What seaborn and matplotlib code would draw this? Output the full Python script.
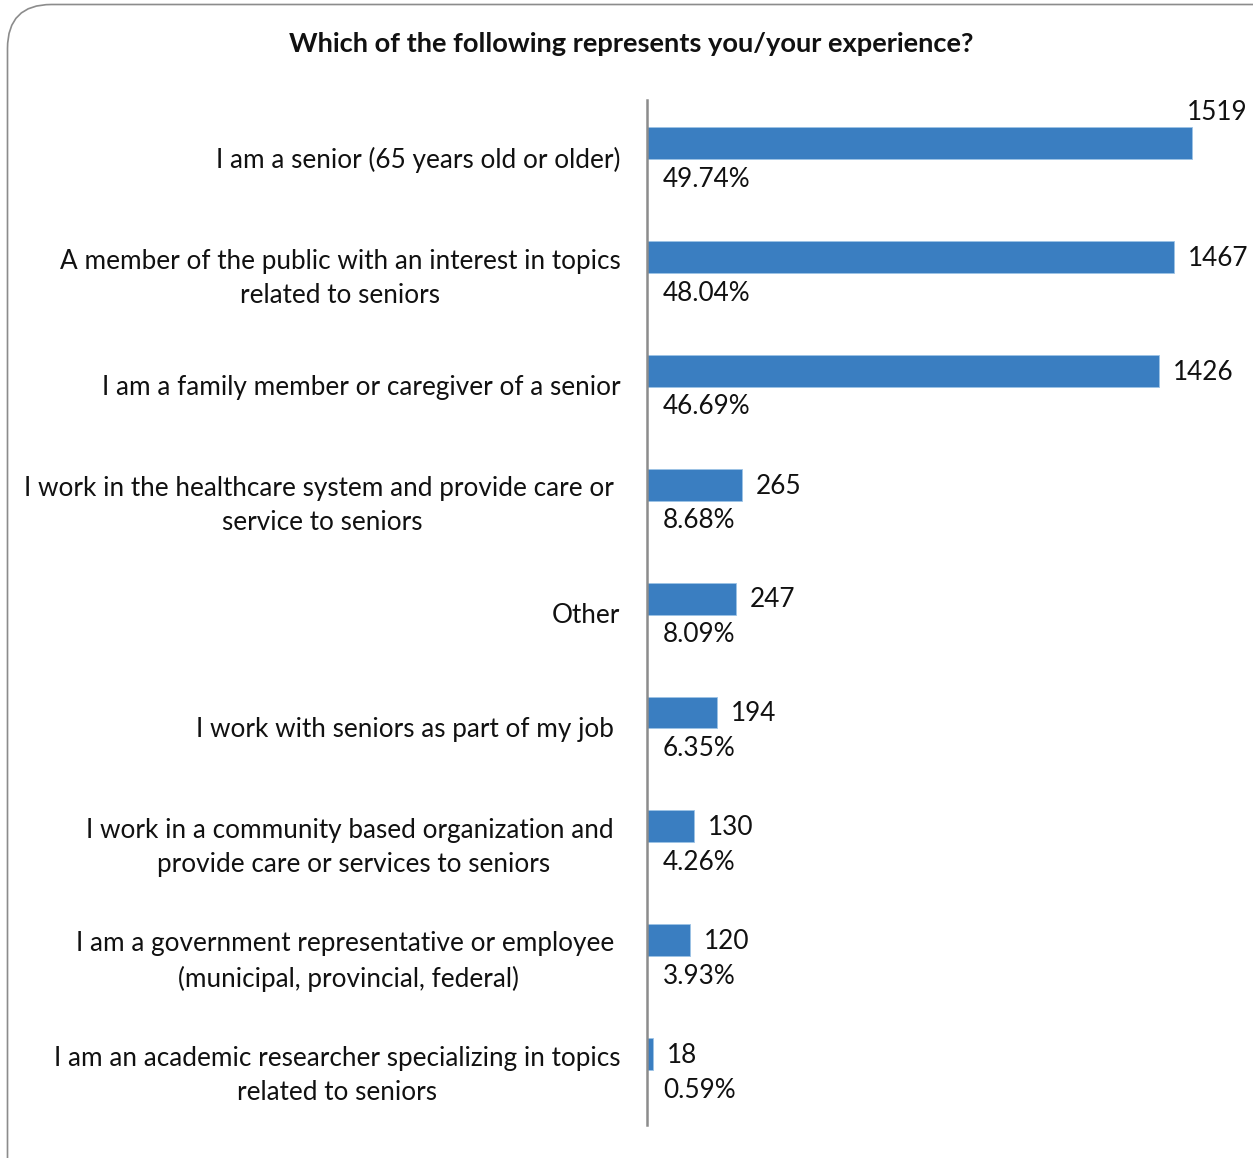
import matplotlib
matplotlib.use("Agg")
import matplotlib.pyplot as plt
from matplotlib.patches import FancyBboxPatch
import numpy as np
import pandas as pd
import seaborn as sns

categories = [
    "I am a senior (65 years old or older)",
    "A member of the public with an interest in topics\nrelated to seniors",
    "I am a family member or caregiver of a senior",
    "I work in the healthcare system and provide care or \nservice to seniors",
    "Other",
    "I work with seniors as part of my job ",
    "I work in a community based organization and \nprovide care or services to seniors",
    "I am a government representative or employee \n(municipal, provincial, federal)",
    "I am an academic researcher specializing in topics\nrelated to seniors",
]
counts = [1519, 1467, 1426, 265, 247, 194, 130, 120, 18]
percents = ["49.74%", "48.04%", "46.69%", "8.68%", "8.09%", "6.35%", "4.26%", "3.93%", "0.59%"]
title = "Which of the following represents you/your experience?"

df = pd.DataFrame({"category": categories, "count": counts, "pct": percents})

sns.set_theme(style="white")
plt.rcParams["font.family"] = ["Lato", "DejaVu Sans"]

W, H, DPI = 1253, 1158, 100
FS = 18.8
fig = plt.figure(figsize=(W / DPI, H / DPI), dpi=DPI)
ax = fig.add_axes([647 / W, 1 - 1125 / H, 593 / W, 1025 / H])

bar_color = "#3A7EC1"
sns.barplot(data=df, x="count", y="category", orient="h", color=bar_color,
            width=0.28, saturation=1, ax=ax, edgecolor="#9DC3E6", linewidth=0.6)

ax.set_xlim(0, 1652)
ax.set_ylim(8.622, -0.378)

# category labels sit at the centre of each band, bars in its upper part
ax.set_yticks(np.arange(len(categories)) + 0.125)
ax.set_yticklabels(categories, fontsize=FS, color="#111111")
for t in ax.get_yticklabels():
    t.set_multialignment("center")
    t.set_linespacing(1.45)
ax.tick_params(axis="y", length=0, pad=19)
ax.set_xticks([])
ax.set_xlabel("")
ax.set_ylabel("")

for s in ["top", "right", "bottom"]:
    ax.spines[s].set_visible(False)
ax.spines["left"].set_color("#8C8C8C")
ax.spines["left"].set_linewidth(1.8)

for i, (c, p) in enumerate(zip(counts, percents)):
    if i == 0:
        ax.annotate(str(c), xy=(c, i), xytext=(40, 22), textcoords="offset points",
                    ha="right", va="center", fontsize=FS, color="#111111")
    else:
        ax.annotate(str(c), xy=(c, i), xytext=(10, -1), textcoords="offset points",
                    ha="left", va="center", fontsize=FS, color="#111111")
    ax.annotate(p, xy=(0, i), xytext=(11.5, -26), textcoords="offset points",
                ha="left", va="center", fontsize=FS, color="#111111")

fig.text(631 / W, 1 - 44 / H, title, ha="center", va="center",
         fontsize=19.6, fontweight="bold", color="#111111")

# rounded chart frame
frame = FancyBboxPatch((7.5 / W, -0.2), 1.3, 1.2 - 4.5 / H,
                       boxstyle="round,pad=0,rounding_size=0.035",
                       transform=fig.transFigure, fill=False,
                       edgecolor="#8C8C8C", linewidth=1.2, clip_on=False,
                       mutation_aspect=W / H)
fig.patches.append(frame)

fig.savefig("out.png", dpi=DPI, facecolor="white")
